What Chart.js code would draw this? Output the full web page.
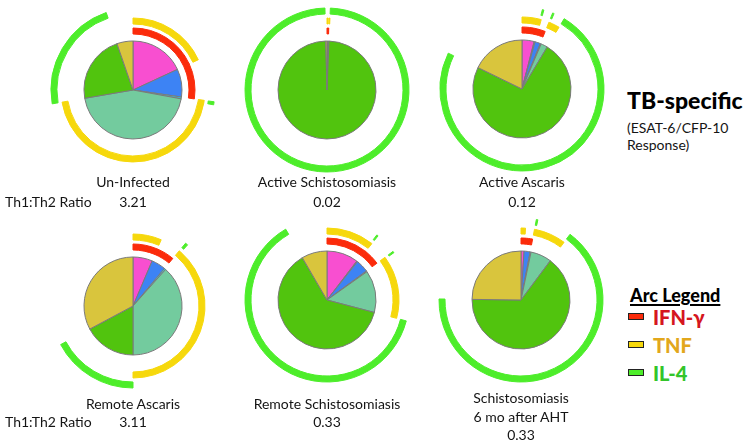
<!DOCTYPE html>
<html>
<head>
<meta charset="utf-8">
<script src="https://cdn.jsdelivr.net/npm/chart.js@4.4.1/dist/chart.umd.min.js"></script>
<style>
  body { margin: 0; background: #fff; width: 750px; height: 444px; overflow: hidden; position: relative;
         font-family: Lato, "Open Sans", sans-serif; color: #141414; }
  canvas { position: absolute; }
  .lbl { position: absolute; width: 220px; margin-left: -110px; text-align: center; font-size: 14px;
         line-height: 18px; white-space: nowrap; }
  .side { position: absolute; white-space: nowrap; }
  .box { position: absolute; width: 14px; height: 5px; border: 1.5px solid #222; }
</style>
</head>
<body>
<script>
// pie categories (cytokine combinations), clockwise from 12 o'clock
const categories = ["IFN-γ+TNF", "IFN-γ+TNF+IL-4", "IFN-γ", "TNF+IL-4", "TNF", "IL-4", "Other"];
const sliceColors = ["#f84fd0", "#8a5ce6", "#3d83f4", "#37c3d8", "#73cb9e", "#51c40e", "#d9c53d"];

// arcs drawn around each pie
const arcNames = ["IFN-γ", "TNF", "IL-4"];
const arcColors = ["#fb2b0b", "#f6d80c", "#4ded2a"];
const arcTextColors = ["#d51620", "#e2a71c", "#33c52a"];
// which arcs cover each category
const arcMembers = [[0, 1], [0, 1, 2], [0], [1, 2], [1], [2], []];

// % of response per category
const unInfected     = [18.1, 0,   9.2, 0.6, 44.4, 22.4,  5.3];
const activeSchisto  = [0.25, 0,   0.2, 0,   0.2,  98.95, 0.4];
const activeAscaris  = [4.0,  0.3, 1.8, 0.3, 2.2,  73.6, 17.8];
const remoteAscaris  = [6.4,  0,   4.7, 0.5, 38.4, 17.2, 32.8];
const remoteSchisto  = [10.4, 0.3, 4.2, 0.3, 13.9, 62.5,  8.4];
const schistoAfter   = [1.0,  0,   2.0, 0.3, 6.9,  65.0, 24.8];

const groups = ["Un-Infected", "Active Schistosomiasis", "Active Ascaris",
                "Remote Ascaris", "Remote Schistosomiasis", "Schistosomiasis|6 mo after AHT"];
const ratios = ["3.21", "0.02", "0.12", "3.11", "0.33", "0.33"];
const groupValues = [unInfected, activeSchisto, activeAscaris, remoteAscaris, remoteSchisto, schistoAfter];

// layout: pie centre, label top, line step
const panels = [
  { cx: 133, cy: 90,  top: 173, step: 20 },
  { cx: 327, cy: 90,  top: 173, step: 20 },
  { cx: 522, cy: 89,  top: 173, step: 20 },
  { cx: 133, cy: 306, top: 395, step: 18 },
  { cx: 327, cy: 300, top: 395, step: 18 },
  { cx: 521, cy: 300, top: 389, step: 18.5 }
];

const clear = "rgba(0,0,0,0)";
const SIZE = 180;

function ring(values, k) {
  const cols = categories.map((c, j) => arcMembers[j].includes(k) ? arcColors[k] : clear);
  return { data: values, backgroundColor: cols, borderColor: cols, borderWidth: 1, weight: 6 };
}
function spacer(w) {
  return { data: [1], backgroundColor: clear, borderWidth: 0, weight: w };
}

function addText(cls, text, x, y, style) {
  const d = document.createElement("div");
  d.className = cls;
  d.textContent = text;
  d.style.left = x + "px";
  d.style.top = y + "px";
  Object.assign(d.style, style || {});
  document.body.appendChild(d);
  return d;
}

groups.forEach((name, i) => {
  const p = panels[i];
  const values = groupValues[i];
  const cv = document.createElement("canvas");
  cv.width = SIZE; cv.height = SIZE;
  cv.style.left = (p.cx - SIZE / 2) + "px";
  cv.style.top = (p.cy - SIZE / 2) + "px";
  document.body.appendChild(cv);

  new Chart(cv.getContext("2d"), {
    type: "doughnut",
    data: {
      labels: categories,
      datasets: [
        ring(values, 2), spacer(4),
        ring(values, 1), spacer(4),
        ring(values, 0), spacer(7),
        { data: values, backgroundColor: sliceColors, borderColor: "#7a7a7a", borderWidth: 1, weight: 49 }
      ]
    },
    options: {
      responsive: false,
      animation: false,
      events: [],
      cutout: 0,
      radius: 82,
      layout: { padding: 0 },
      plugins: { legend: { display: false }, tooltip: { enabled: false } }
    }
  });

  const lines = name.split("|").concat([ratios[i]]);
  lines.forEach((t, j) => addText("lbl", t, p.cx, p.top + j * p.step));
});

// row captions
addText("side", "Th1:Th2 Ratio", 5, 193, { fontSize: "14px", lineHeight: "18px" });
addText("side", "Th1:Th2 Ratio", 5, 413, { fontSize: "14px", lineHeight: "18px" });

// title block
addText("side", "TB-specific", 627, 87, { fontSize: "23px", lineHeight: "27px", fontWeight: "900", color: "#000" });
addText("side", "(ESAT-6/CFP-10", 627, 119, { fontSize: "14px", lineHeight: "17px" });
addText("side", "Response)", 627, 136, { fontSize: "14px", lineHeight: "17px" });

// arc legend
addText("side", "Arc Legend", 630, 285, { fontSize: "18px", lineHeight: "21px", fontWeight: "900", color: "#000",
  textDecoration: "underline", textDecorationThickness: "2px", textUnderlineOffset: "2px" });
arcNames.forEach((n, k) => {
  const y = 313 + k * 28;
  const b = document.createElement("div");
  b.className = "box";
  b.style.left = "628px";
  b.style.top = y + "px";
  b.style.background = arcColors[k];
  document.body.appendChild(b);
  addText("side", n, 653, y - 8, { fontSize: "20px", lineHeight: "24px", fontWeight: "900", color: arcTextColors[k] });
});
</script>
</body>
</html>
